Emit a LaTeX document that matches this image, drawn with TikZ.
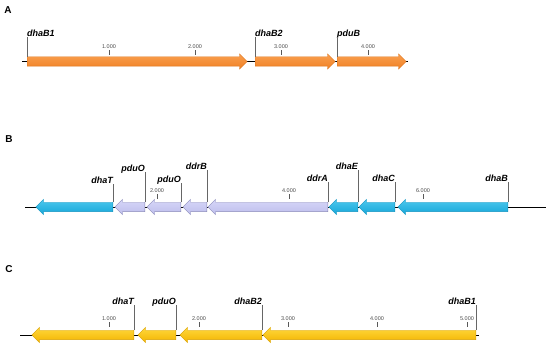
\documentclass[tikz,border=0pt]{standalone}
\usepackage{fontspec}
\setmainfont{Liberation Sans}
\usetikzlibrary{shapes.arrows}
\definecolor{oraL}{HTML}{F9A050}
\definecolor{oraM}{HTML}{F08024}
\definecolor{oraD}{HTML}{DE741C}
\definecolor{cyaL}{HTML}{4CC8EE}
\definecolor{cyaM}{HTML}{16A6D8}
\definecolor{cyaD}{HTML}{1494C0}
\definecolor{lavL}{HTML}{D6D6F8}
\definecolor{lavM}{HTML}{BEBEEC}
\definecolor{lavD}{HTML}{8A8AB8}
\definecolor{yelL}{HTML}{FFD83C}
\definecolor{yelM}{HTML}{F3B400}
\definecolor{yelD}{HTML}{D69E00}
\tikzset{
  gene/.style={single arrow, inner xsep=0pt, inner ysep=4.5pt,
    single arrow head extend=3pt, line width=0.4pt, anchor=tail},
  fwd/.style={gene, shape border rotate=0},
  rev/.style={gene, shape border rotate=180},
  ora/.style={draw=oraD, top color=oraL, bottom color=oraM},
  cya/.style={draw=cyaD, top color=cyaL, bottom color=cyaM},
  lav/.style={draw=lavD, top color=lavL, bottom color=lavM},
  yel/.style={draw=yelD, top color=yelL, bottom color=yelM},
  gname/.style={font=\fontsize{9}{9}\selectfont\bfseries\itshape, inner sep=0pt,
    text height=6.5pt, text depth=0pt},
  tagline/.style={draw=black!60, line width=0.6pt},
  tickmark/.style={draw=black!65, line width=0.5pt},
  ticklbl/.style={font=\fontsize{5.5}{5.5}\selectfont, text=black!70, inner sep=1pt},
  dna/.style={line width=0.9pt},
  panel/.style={font=\fontsize{10}{10}\selectfont\bfseries, inner sep=0pt},
}
\begin{document}
\begin{tikzpicture}[x=1pt, y=-1pt]
\useasboundingbox (0,0) rectangle (550,347);

% A
\node[panel] (pA) at (8,10) {A};
\draw[dna] (22,61.5) -- (408,61.5);
\node[fwd, ora, minimum height=220pt] (gAa) at (27,61.5) {};
\node[fwd, ora, minimum height=80pt] (gAb) at (255,61.5) {};
\node[fwd, ora, minimum height=69pt] (gAc) at (337,61.5) {};
\node[gname, anchor=south west] (lAa) at (27,37) {dhaB1};
\node[gname, anchor=south west] (lAb) at (255,37) {dhaB2};
\node[gname, anchor=south west] (lAc) at (337,37) {pduB};
\draw[tagline] (gAa.tail |- gAa.north) -- (lAa.south west);
\draw[tagline] (gAb.tail |- gAb.north) -- (lAb.south west);
\draw[tagline] (gAc.tail |- gAc.north) -- (lAc.south west);
\foreach \x/\t in {109/1.000, 195/2.000, 281/3.000, 368/4.000}
  \draw[tickmark] (\x,55) -- (\x,50) node[above, ticklbl] {\t};

% B
\node[panel] (pB) at (9,139) {B};
\draw[dna] (25,207) -- (546,207);
\node[rev, cya, minimum height=77pt] (gBa) at (113,207) {};
\node[rev, lav, minimum height=30pt] (gBb) at (145,207) {};
\node[rev, lav, minimum height=34pt] (gBc) at (181,207) {};
\node[rev, lav, minimum height=24pt] (gBd) at (207,207) {};
\node[rev, lav, minimum height=120pt] (gBe) at (328,207) {};
\node[rev, cya, minimum height=29pt] (gBf) at (358,207) {};
\node[rev, cya, minimum height=36pt] (gBg) at (395,207) {};
\node[rev, cya, minimum height=110pt] (gBh) at (508,207) {};
\node[gname, anchor=south east] (lBa) at (113,184) {dhaT};
\node[gname, anchor=south east] (lBb) at (145,172) {pduO};
\node[gname, anchor=south east] (lBc) at (181,183) {pduO};
\node[gname, anchor=south east] (lBd) at (207,170) {ddrB};
\node[gname, anchor=south east] (lBe) at (328,182) {ddrA};
\node[gname, anchor=south east] (lBf) at (358,170) {dhaE};
\node[gname, anchor=south east] (lBg) at (395,182) {dhaC};
\node[gname, anchor=south east] (lBh) at (508,182) {dhaB};
\foreach \g/\l in {gBa/lBa, gBb/lBb, gBc/lBc, gBd/lBd, gBe/lBe, gBf/lBf, gBg/lBg, gBh/lBh}
  \draw[tagline] (\g.tail |- \g.north) -- (\l.south east);
\foreach \x/\t in {157/2.000, 289/4.000, 423/6.000}
  \draw[tickmark] (\x,199) -- (\x,194) node[above, ticklbl] {\t};

% C
\node[panel] (pC) at (9,269) {C};
\draw[dna] (20,335) -- (479,335);
\node[rev, yel, minimum height=102pt] (gCa) at (134,335) {};
\node[rev, yel, minimum height=38pt] (gCb) at (176,335) {};
\node[rev, yel, minimum height=82pt] (gCc) at (262,335) {};
\node[rev, yel, minimum height=213pt] (gCd) at (476,335) {};
\node[gname, anchor=south east] (lCa) at (134,305) {dhaT};
\node[gname, anchor=south east] (lCb) at (176,305) {pduO};
\node[gname, anchor=south east] (lCc) at (262,305) {dhaB2};
\node[gname, anchor=south east] (lCd) at (476,305) {dhaB1};
\foreach \g/\l in {gCa/lCa, gCb/lCb, gCc/lCc, gCd/lCd}
  \draw[tagline] (\g.tail |- \g.north) -- (\l.south east);
\foreach \x/\t in {109/1.000, 199/2.000, 288/3.000, 377/4.000, 467/5.000}
  \draw[tickmark] (\x,327) -- (\x,322) node[above, ticklbl] {\t};
\end{tikzpicture}
\end{document}
